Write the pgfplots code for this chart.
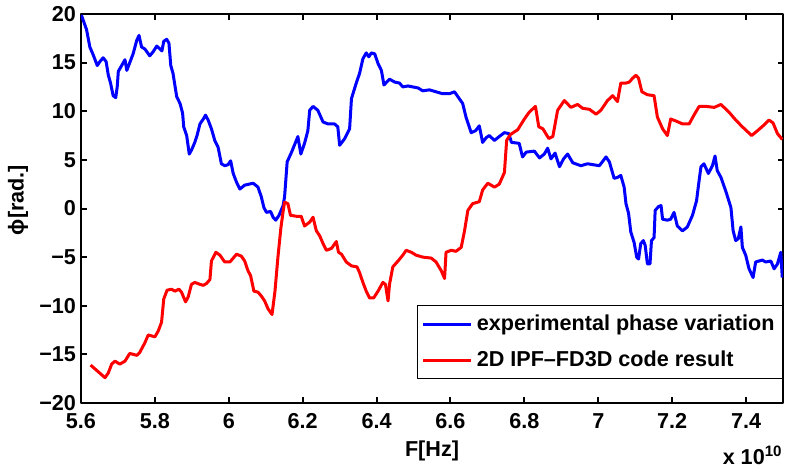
\documentclass[border=0pt]{standalone}
\usepackage{fontspec}
\setmainfont{Liberation Sans}
\usepackage{pgfplots}
\pgfplotsset{compat=1.18}
\newcommand{\chartfont}{\bfseries\fontsize{10.8}{12}\selectfont}
\begin{document}
\begin{tikzpicture}
\begin{axis}[name=ax,
  scale only axis, width=351pt, height=194.5pt,
  xmin=5.6, xmax=7.5, ymin=-20, ymax=20,
  xtick={5.6,5.8,6,6.2,6.4,6.6,6.8,7,7.2,7.4},
  xticklabels={5.6,5.8,6,6.2,6.4,6.6,6.8,7,7.2,7.4},
  ytick={-20,-15,-10,-5,0,5,10,15,20},
  yticklabels={−20,−15,−10,−5,0,5,10,15,20},
  tick align=inside, major tick length=2.75pt,
  axis line style={line width=1pt},
  every tick/.style={black, line width=1pt},
  tick label style={font=\chartfont},
  xticklabel style={yshift=-1.8pt},
  yticklabel style={xshift=1pt},
  xlabel={F[Hz]}, ylabel={ϕ[rad.]},
  label style={font=\chartfont},
  xlabel style={at={(axis description cs:0.5,-0.124)}, anchor=center},
  ylabel style={at={(axis description cs:-0.0897,0.522)}, anchor=center},
  legend style={at={(1,0.062)}, anchor=south east, draw=black, line width=0.5pt, fill=white,
    font=\chartfont, row sep=4.6pt, inner xsep=2pt, inner ysep=2.5pt,
    cells={anchor=west}},
  legend image code/.code={\draw[#1, line width=1.5pt] (0pt,0pt) -- (24pt,0pt);},
  line join=round,
]
\addplot[color={rgb,255:red,0;green,0;blue,255}, line width=1.5pt] table[x=x,y=y] {
x y
5.601 19.9
5.615 18.4
5.624 16.6
5.633 15.8
5.644 14.7
5.651 15.1
5.660 15.5
5.668 15.1
5.674 13.7
5.680 12.9
5.687 11.6
5.694 11.4
5.698 12.5
5.701 14.1
5.710 14.7
5.719 15.3
5.724 14.2
5.731 14.9
5.741 15.9
5.751 17.3
5.757 17.8
5.764 16.6
5.773 16.4
5.786 15.7
5.795 16.1
5.805 16.7
5.814 16.4
5.819 16.2
5.824 17.2
5.832 17.4
5.838 17.0
5.843 14.7
5.849 13.9
5.854 12.7
5.859 11.5
5.868 10.8
5.875 9.8
5.878 8.4
5.886 7.5
5.893 5.6
5.899 6.0
5.908 6.8
5.914 7.5
5.922 8.7
5.931 9.2
5.937 9.6
5.944 9.1
5.953 8.2
5.962 7.0
5.971 6.3
5.980 4.6
5.989 4.4
5.998 4.5
6.005 4.9
6.012 3.6
6.021 2.7
6.030 2.0
6.043 2.4
6.066 2.6
6.079 2.2
6.088 1.2
6.095 0.1
6.102 -0.4
6.113 -0.3
6.120 -0.9
6.127 -1.2
6.136 -0.7
6.147 0.3
6.151 1.2
6.158 4.8
6.170 5.8
6.187 7.4
6.195 5.6
6.205 6.7
6.214 8.0
6.219 10.1
6.228 10.5
6.241 10.1
6.255 8.9
6.268 8.7
6.286 8.7
6.295 8.4
6.300 6.5
6.314 7.2
6.327 8.2
6.332 11.3
6.345 12.9
6.354 13.9
6.363 15.4
6.372 16.0
6.379 15.6
6.386 16.0
6.395 15.9
6.404 14.9
6.413 14.2
6.420 12.7
6.435 13.3
6.449 13.0
6.462 12.9
6.471 12.5
6.485 12.6
6.498 12.5
6.512 12.4
6.525 12.1
6.543 12.2
6.561 12.0
6.579 11.8
6.597 11.8
6.611 12.0
6.620 11.5
6.633 10.8
6.642 9.4
6.656 7.8
6.668 8.0
6.678 8.5
6.687 6.8
6.697 7.3
6.705 7.5
6.719 7.0
6.732 7.4
6.746 7.8
6.758 7.7
6.765 6.8
6.786 6.7
6.795 5.3
6.805 5.8
6.827 5.9
6.841 5.2
6.854 5.6
6.863 6.2
6.872 5.1
6.883 5.7
6.895 4.3
6.906 5.1
6.917 5.6
6.931 4.7
6.953 4.4
6.971 4.6
7.003 4.4
7.021 5.3
7.030 4.8
7.043 3.1
7.052 3.2
7.061 3.4
7.070 2.2
7.075 0.5
7.082 -0.5
7.088 -2.4
7.097 -3.5
7.104 -5.0
7.109 -5.2
7.115 -3.6
7.122 -3.3
7.127 -3.8
7.133 -5.7
7.140 -5.7
7.144 -3.3
7.151 -3.0
7.154 -0.2
7.163 0.2
7.170 0.3
7.174 -1.1
7.187 -1.2
7.196 -1.1
7.205 -0.4
7.214 -1.8
7.228 -2.3
7.241 -1.9
7.255 -0.7
7.266 0.8
7.273 2.9
7.278 4.3
7.286 4.6
7.298 3.6
7.309 4.4
7.316 5.4
7.322 3.9
7.332 3.2
7.345 1.8
7.359 0.1
7.365 -2.3
7.372 -3.3
7.379 -3.1
7.386 -1.9
7.390 -4.0
7.399 -4.8
7.408 -6.2
7.419 -7.1
7.426 -5.5
7.444 -5.3
7.453 -5.5
7.467 -5.4
7.476 -6.2
7.485 -5.7
7.494 -4.5
7.498 -7.1
};
\addlegendentry{experimental phase variation}
\addplot[color={rgb,255:red,255;green,0;blue,0}, line width=1.5pt] table[x=x,y=y] {
x y
5.626 -16.1
5.647 -16.8
5.665 -17.4
5.674 -16.9
5.683 -16.0
5.692 -15.7
5.705 -16.0
5.719 -15.7
5.732 -14.9
5.751 -15.1
5.759 -14.8
5.773 -13.8
5.782 -13.0
5.800 -13.2
5.809 -12.6
5.818 -11.7
5.824 -9.3
5.833 -8.4
5.845 -8.3
5.854 -8.5
5.865 -8.3
5.872 -8.6
5.883 -9.6
5.890 -9.1
5.899 -7.8
5.908 -7.6
5.922 -7.8
5.931 -7.9
5.940 -7.7
5.949 -7.3
5.953 -5.4
5.965 -4.5
5.976 -4.8
5.989 -5.5
6.003 -5.5
6.012 -5.1
6.021 -4.7
6.034 -4.9
6.043 -5.4
6.052 -6.4
6.059 -6.9
6.068 -8.5
6.079 -8.6
6.088 -9.0
6.097 -9.5
6.106 -10.3
6.117 -10.9
6.125 -8.5
6.133 -5.0
6.141 -2.0
6.147 -0.3
6.151 0.65
6.160 0.5
6.167 -0.7
6.183 -0.8
6.196 -0.8
6.205 -1.8
6.219 -1.4
6.228 -0.9
6.237 -2.3
6.246 -2.8
6.255 -3.6
6.264 -4.3
6.278 -4.1
6.291 -3.4
6.297 -4.5
6.305 -4.7
6.318 -5.5
6.332 -5.9
6.347 -6.0
6.354 -6.6
6.363 -7.6
6.372 -8.5
6.381 -9.2
6.392 -9.2
6.404 -8.5
6.417 -7.6
6.424 -7.8
6.431 -9.5
6.435 -7.8
6.444 -6.0
6.458 -5.4
6.471 -4.8
6.480 -4.3
6.494 -4.5
6.507 -4.8
6.525 -5.0
6.548 -5.1
6.561 -5.5
6.575 -6.4
6.584 -7.2
6.588 -4.5
6.602 -4.3
6.615 -4.4
6.629 -4.0
6.638 -2.3
6.647 -0.2
6.660 0.5
6.678 0.7
6.687 1.9
6.701 2.6
6.719 2.2
6.732 2.5
6.746 3.7
6.752 7.0
6.762 7.6
6.782 8.1
6.800 9.2
6.813 9.9
6.830 10.5
6.839 8.4
6.850 8.2
6.866 7.2
6.877 7.4
6.890 10.1
6.908 11.1
6.926 10.4
6.944 10.7
6.958 10.3
6.976 10.2
6.994 9.7
7.007 10.1
7.025 11.1
7.039 11.6
7.052 11.0
7.061 12.9
7.075 12.9
7.084 13.0
7.093 13.4
7.102 13.7
7.109 13.4
7.118 12.0
7.133 11.7
7.151 11.6
7.160 9.4
7.174 8.2
7.187 7.5
7.196 9.2
7.210 9.0
7.228 8.7
7.246 8.7
7.259 9.6
7.273 10.5
7.291 10.5
7.314 10.4
7.332 10.7
7.354 9.9
7.372 9.1
7.390 8.4
7.404 7.9
7.415 7.5
7.431 8.0
7.449 8.6
7.462 9.1
7.473 8.8
7.485 7.7
7.498 7.1
};
\addlegendentry{2D IPF\textendash FD3D code result}
\end{axis}
\node[anchor=south east, inner sep=0pt, font=\chartfont]
  at ([yshift=-31pt]ax.south east) {x 10\textsuperscript{10}};
\pgfresetboundingbox
\path[use as bounding box] ([shift={(-40.5pt,-33.5pt)}]ax.south west) rectangle ([shift={(1pt,7pt)}]ax.north east);
\end{tikzpicture}
\end{document}
